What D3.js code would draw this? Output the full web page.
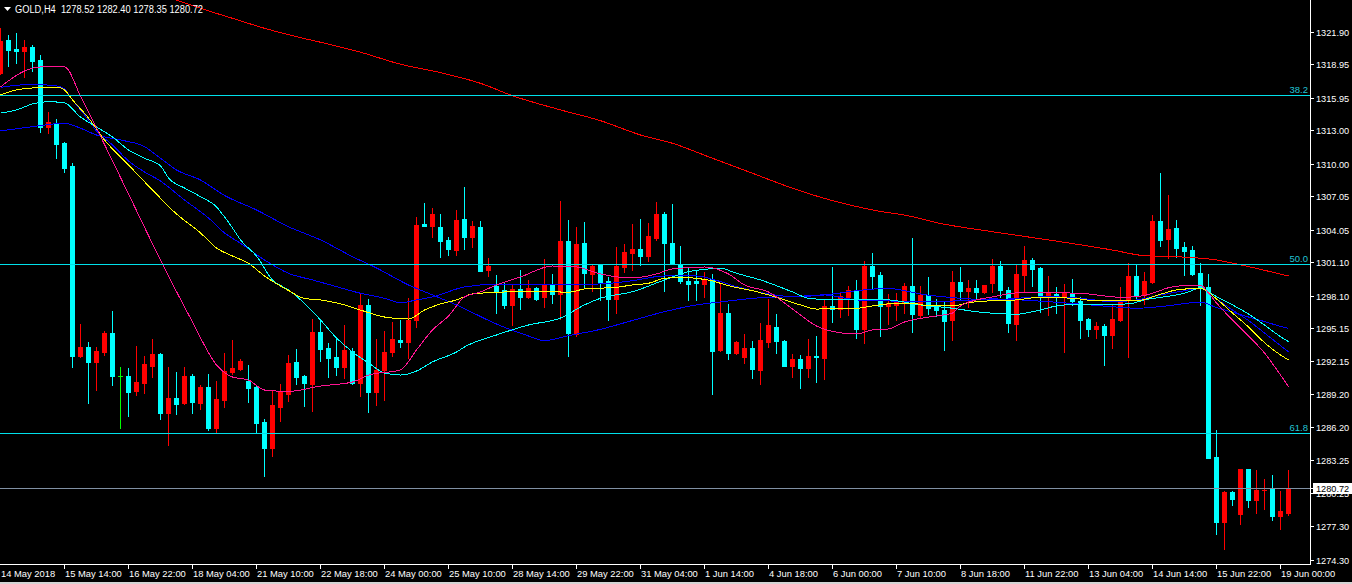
<!DOCTYPE html>
<html><head><meta charset="utf-8">
<script src="https://cdn.jsdelivr.net/npm/d3@7"></script>
<style>html,body{margin:0;padding:0;background:#000;overflow:hidden}svg{display:block}</style>
</head><body><svg id="c" width="1352" height="584"></svg>
<script>
const symbolTitle = "GOLD,H4";
const lastOHLC = [1278.52, 1282.40, 1278.35, 1280.72];
const opens = [1318.19,1321.14,1320.32,1320.14,1320.51,1319.33,1313.27,1313.63,1311.88,1309.78,
1292.67,1293.46,1292.13,1293.03,1294.72,1290.82,1290.82,1289.49,1290.21,1291.77,
1292.83,1287.51,1288.86,1288.41,1290.84,1288.41,1289.85,1286.18,1288.71,1291.20,
1291.48,1290.39,1289.85,1286.70,1284.38,1288.05,1289.25,1292.11,1290.84,1290.15,
1294.81,1293.37,1292.56,1291.68,1293.10,1290.24,1297.25,1289.43,1291.41,1293.03,
1294.09,1293.94,1295.92,1304.57,1304.39,1304.28,1303.11,1302.23,1305.00,1303.38,
1304.28,1300.43,1298.98,1298.62,1297.25,1298.69,1297.99,1298.80,1297.99,1299.14,
1298.26,1303.04,1294.66,1302.86,1300.07,1300.88,1299.44,1297.81,1300.70,1301.96,
1302.32,1301.69,1303.31,1305.45,1302.86,1300.97,1299.41,1299.41,1299.17,1299.59,
1293.19,1296.50,1292.94,1292.58,1293.40,1291.41,1293.94,1295.26,1294.03,1291.77,
1292.38,1291.59,1292.67,1292.49,1297.18,1296.86,1297.97,1298.62,1295.11,1300.79,
1299.98,1297.18,1297.27,1297.52,1298.98,1296.32,1298.17,1297.04,1296.79,1295.92,
1299.35,1298.53,1298.78,1298.42,1299.26,1300.76,1298.62,1295.56,1299.98,1301.33,
1300.61,1298.08,1298.26,1298.08,1298.35,1297.61,1296.01,1295.11,1295.38,1294.57,
1295.92,1297.72,1299.89,1298.15,1299.32,1304.84,1303.20,1304.19,1302.47,1302.20,
1300.13,1298.90,1283.54,1277.71,1280.39,1278.43,1282.46,1279.69,1280.54,1280.66,
1278.25,1278.52];
const highs = [1322.19,1321.59,1321.74,1321.14,1320.69,1319.78,1314.64,1314.01,1311.97,1310.05,
1295.53,1293.91,1293.46,1294.90,1296.70,1291.66,1291.54,1293.55,1292.65,1294.18,
1292.92,1291.66,1291.20,1291.66,1291.02,1290.03,1291.02,1290.39,1292.92,1294.09,
1292.38,1291.84,1289.94,1286.97,1289.58,1290.12,1292.74,1293.28,1290.93,1295.98,
1295.98,1293.82,1294.36,1295.44,1293.37,1298.33,1297.79,1294.18,1294.90,1295.71,
1295.89,1297.88,1305.18,1306.44,1305.99,1305.45,1303.38,1305.81,1307.88,1304.82,
1304.82,1301.51,1299.95,1299.32,1299.17,1300.43,1299.53,1298.87,1301.42,1300.04,
1306.62,1304.91,1304.28,1304.73,1300.85,1300.94,1299.80,1302.47,1302.74,1304.55,
1305.00,1304.64,1306.53,1305.63,1306.35,1302.54,1300.61,1300.40,1300.22,1300.04,
1299.17,1297.34,1294.03,1294.60,1294.03,1295.65,1297.81,1296.43,1294.12,1292.85,
1292.74,1294.21,1294.48,1297.72,1300.67,1298.33,1298.96,1299.50,1301.21,1301.93,
1300.25,1298.26,1298.33,1299.26,1303.29,1298.98,1299.80,1297.81,1297.63,1300.34,
1300.70,1299.53,1299.50,1299.09,1301.39,1301.21,1298.90,1300.85,1302.56,1301.51,
1300.70,1299.86,1298.87,1299.14,1299.59,1297.99,1296.07,1295.74,1295.56,1297.34,
1298.90,1301.03,1300.88,1300.22,1305.39,1309.15,1307.19,1304.91,1302.92,1302.56,
1301.03,1300.04,1285.98,1280.45,1280.50,1282.50,1282.50,1282.37,1281.56,1281.92,
1280.48,1282.40];
const lows = [1318.07,1318.79,1319.04,1317.77,1318.34,1312.81,1312.72,1310.50,1309.26,1291.68,
1292.60,1288.44,1289.61,1292.74,1290.03,1286.18,1287.27,1289.13,1289.31,1290.75,
1286.99,1284.65,1287.45,1288.35,1287.54,1287.87,1286.00,1285.82,1288.05,1291.05,
1291.39,1288.53,1285.82,1281.86,1283.66,1286.81,1288.62,1290.15,1288.17,1287.72,
1292.22,1290.78,1290.96,1290.69,1290.15,1289.07,1287.63,1288.26,1288.71,1292.67,
1293.49,1292.49,1295.29,1304.37,1303.40,1301.60,1301.78,1301.78,1302.32,1302.50,
1300.31,1299.89,1296.55,1297.00,1295.47,1296.91,1297.90,1297.72,1297.09,1297.42,
1296.01,1292.67,1294.48,1298.90,1298.53,1297.72,1295.87,1296.55,1300.25,1300.43,
1300.88,1301.24,1303.13,1298.53,1300.99,1299.26,1297.70,1297.70,1298.00,1289.25,
1293.13,1292.35,1292.87,1292.04,1290.69,1290.15,1293.49,1292.94,1291.74,1290.78,
1289.79,1290.78,1290.33,1290.60,1295.74,1296.19,1296.37,1294.30,1293.85,1298.80,
1294.48,1295.56,1295.92,1296.55,1294.84,1296.10,1296.46,1296.28,1293.22,1294.12,
1297.72,1297.09,1297.85,1298.35,1298.42,1297.99,1294.84,1294.12,1298.42,1298.98,
1296.64,1296.37,1296.55,1293.03,1297.27,1294.30,1294.48,1294.30,1291.86,1293.40,
1295.83,1292.58,1297.70,1297.36,1299.20,1302.59,1301.48,1301.60,1299.95,1299.95,
1297.27,1283.45,1276.63,1275.27,1279.21,1277.53,1279.06,1278.52,1278.88,1277.89,
1277.08,1278.35];
const closes = [1321.05,1320.23,1320.17,1320.51,1319.24,1313.27,1313.74,1311.79,1309.62,1292.67,
1293.46,1292.13,1293.10,1294.72,1290.87,1290.82,1289.43,1290.28,1291.93,1292.83,
1287.51,1288.86,1288.32,1290.84,1288.50,1289.85,1286.13,1288.77,1291.29,1291.57,
1292.20,1289.79,1286.63,1284.38,1288.23,1289.40,1292.02,1290.78,1290.24,1294.81,
1293.31,1292.49,1291.68,1293.19,1290.24,1297.25,1289.43,1291.39,1293.01,1294.18,
1293.94,1295.89,1304.46,1304.39,1305.48,1303.04,1302.32,1304.91,1303.38,1304.37,
1300.34,1300.79,1298.53,1297.25,1298.69,1297.99,1298.80,1297.81,1299.17,1298.21,
1303.04,1294.72,1302.77,1300.16,1300.79,1299.35,1297.81,1300.79,1302.05,1302.32,
1301.69,1303.49,1305.45,1302.86,1301.06,1299.44,1299.17,1299.23,1299.59,1293.13,
1296.50,1292.94,1293.94,1293.40,1291.50,1294.09,1295.47,1294.03,1291.77,1292.38,
1291.59,1292.67,1292.53,1297.18,1296.86,1298.08,1298.62,1295.11,1300.79,1299.89,
1297.18,1297.45,1297.58,1298.98,1296.46,1298.17,1297.00,1296.82,1295.83,1299.35,
1298.53,1298.78,1298.44,1299.05,1300.76,1298.62,1295.62,1300.04,1301.30,1300.52,
1297.94,1298.35,1298.06,1298.35,1297.63,1295.92,1295.11,1295.38,1294.57,1295.98,
1297.70,1299.89,1298.15,1299.41,1304.84,1303.11,1304.10,1302.38,1302.11,1300.04,
1298.90,1283.48,1277.71,1280.41,1279.78,1282.46,1279.69,1280.57,1280.57,1278.25,
1278.67,1280.72];

const priceTicks = [1321.90,1318.95,1315.95,1313.00,1310.00,1307.05,1304.05,1301.10,1298.10,
1295.15,1292.15,1289.20,1286.20,1283.25,1280.25,1277.30,1274.30];
const timeTickBars = [0,8,16,24,32,40,48,56,64,72,80,88,96,104,112,120,128,136,144,152,160];
const timeLabels = ["14 May 2018","15 May 14:00","16 May 22:00","18 May 04:00","21 May 10:00",
"22 May 18:00","24 May 00:00","25 May 10:00","28 May 14:00","29 May 22:00","31 May 04:00",
"1 Jun 14:00","4 Jun 18:00","6 Jun 00:00","7 Jun 10:00","8 Jun 18:00","11 Jun 22:00",
"13 Jun 04:00","14 Jun 14:00","15 Jun 22:00","19 Jun 00:00"];
const fibLevels = ["38.2","50.0","61.8"];
const fibPrices = [1316.15,1300.91,1285.67];

// moving averages: [bar index, price]
const maRed = [[22,1324.74],[25,1323.99],[29,1323.09],[33,1322.19],[37,1321.43],[40,1320.93],
[45,1320.03],[50,1318.95],[55,1318.19],[60,1317.23],[64,1316.11],[70,1314.83],[75,1313.86],
[80,1312.57],[84,1311.82],[89,1310.47],[94,1309.12],[99,1307.77],[104,1306.65],[109,1305.81],
[114,1305.21],[117,1304.67],[124,1303.85],[131,1303.11],[139,1302.20],[143,1301.69],
[147,1301.60],[152,1301.30],[156,1300.70],[161,1299.86]];
const maPink = [[0,1316.90],[3,1318.34],[5,1318.70],[8,1318.70],[10,1316.09],[12,1313.20],
[16,1307.25],[20,1301.30],[24,1295.71],[27,1291.84],[29,1290.75],[31,1290.48],[33,1289.58],
[36,1289.45],[40,1289.94],[44,1290.30],[46,1290.93],[50,1291.39],[52,1293.19],[54,1294.99],
[56,1296.25],[58,1297.97],[60,1298.42],[62,1299.05],[65,1299.77],[69,1300.76],[72,1300.67],
[75,1300.04],[79,1299.68],[82,1300.04],[84,1300.49],[88,1300.67],[91,1300.04],[93,1299.05],
[96,1298.42],[98,1297.43],[100,1296.34],[102,1295.35],[104,1294.86],[107,1294.63],[109,1294.99],
[111,1295.08],[113,1295.71],[116,1296.16],[119,1296.52],[120,1297.16],[122,1297.70],[124,1297.97],
[127,1298.33],[131,1298.35],[135,1298.30],[137,1298.15],[140,1297.94],[142,1297.99],[144,1298.30],
[146,1298.80],[148,1299.00],[150,1299.02],[151,1298.33],[152,1297.43],[154,1295.89],[156,1294.45],
[158,1292.92],[160,1290.93],[161,1289.88]];
const maYellow = [[0,1316.18],[2,1316.63],[4,1316.81],[7,1316.87],[8,1316.63],[9,1315.73],
[11,1314.10],[13,1312.12],[16,1309.87],[19,1307.61],[22,1305.45],[25,1303.74],[27,1302.38],
[29,1301.66],[31,1301.00],[33,1299.86],[36,1298.55],[38,1297.83],[40,1297.70],[43,1297.25],
[45,1296.79],[48,1296.16],[51,1295.98],[53,1296.79],[55,1297.34],[57,1297.70],[59,1298.24],
[61,1298.35],[65,1298.44],[69,1298.44],[71,1298.39],[73,1298.69],[77,1298.84],[79,1299.05],
[81,1299.20],[83,1299.65],[85,1299.74],[87,1299.65],[89,1299.41],[91,1298.98],[94,1298.53],
[97,1297.94],[100,1297.25],[102,1296.88],[105,1296.95],[107,1296.95],[109,1297.16],[111,1297.34],
[114,1297.40],[116,1297.18],[119,1297.16],[121,1297.45],[124,1297.63],[127,1297.70],[130,1297.94],
[134,1297.85],[137,1297.63],[142,1297.63],[145,1298.21],[147,1298.60],[150,1298.75],[152,1297.79],
[154,1296.52],[156,1295.26],[158,1293.85],[160,1292.74],[161,1292.29]];
const maAqua = [[0,1314.55],[2,1314.83],[4,1315.37],[6,1315.57],[8,1315.46],[10,1314.19],
[12,1313.29],[14,1312.39],[16,1311.22],[18,1310.47],[20,1309.78],[21,1308.69],[23,1307.79],
[25,1307.01],[27,1306.08],[28,1305.18],[29,1304.19],[30,1303.11],[32,1301.66],[34,1299.50],
[36,1298.60],[38,1297.40],[40,1295.89],[42,1294.27],[44,1293.01],[46,1292.02],[48,1291.11],
[50,1290.93],[52,1291.29],[54,1292.11],[57,1293.01],[58,1293.46],[62,1294.54],[66,1295.44],
[70,1296.07],[73,1297.25],[75,1297.85],[79,1298.44],[83,1299.50],[86,1300.25],[88,1300.46],
[90,1300.55],[92,1300.10],[95,1299.50],[99,1298.42],[101,1297.85],[103,1297.76],[107,1297.76],
[111,1297.70],[115,1297.25],[119,1296.95],[122,1296.64],[124,1296.50],[127,1296.41],[129,1296.64],
[133,1297.25],[138,1297.31],[141,1297.34],[143,1297.70],[148,1298.30],[150,1298.75],[152,1298.00],
[154,1297.25],[156,1296.43],[158,1295.44],[160,1294.39],[161,1293.94]];
const maBlueFast = [[0,1316.87],[4,1317.14],[7,1316.99],[8,1316.72],[9,1315.73],[11,1313.92],
[12,1312.93],[14,1311.67],[16,1310.23],[18,1309.24],[20,1308.42],[23,1306.71],[26,1305.09],
[28,1303.74],[30,1302.81],[33,1301.30],[36,1300.10],[39,1299.50],[42,1298.90],[45,1298.30],
[48,1297.85],[50,1297.45],[52,1297.70],[54,1297.97],[58,1298.87],[62,1299.11],[66,1299.05],
[75,1299.14],[79,1299.44],[83,1299.86],[87,1299.86],[89,1299.56],[92,1298.90],[96,1298.24],
[99,1297.99],[103,1298.15],[107,1298.53],[111,1298.75],[113,1298.53],[115,1298.24],[120,1297.85],
[124,1297.70],[127,1297.85],[131,1297.99],[135,1297.85],[139,1297.54],[142,1297.70],[145,1298.15],
[148,1298.53],[150,1298.75],[152,1297.80],[154,1296.79],[156,1295.84],[158,1294.72],[160,1293.58],
[161,1293.03]];
const maBlueSlow = [[0,1312.93],[4,1313.32],[8,1313.63],[10,1313.18],[12,1312.57],[15,1312.12],
[18,1311.52],[20,1310.47],[22,1309.42],[25,1308.51],[28,1307.12],[32,1305.81],[36,1304.30],
[40,1303.11],[44,1301.60],[47,1300.58],[51,1299.05],[54,1298.15],[57,1297.25],[62,1295.53],
[66,1294.45],[68,1294.03],[71,1294.48],[75,1295.05],[79,1295.85],[83,1296.64],[87,1297.25],
[90,1297.52],[95,1297.90],[99,1297.99],[103,1298.15],[107,1297.70],[111,1297.61],[115,1297.54],
[120,1297.63],[124,1297.79],[131,1297.54],[139,1297.09],[142,1296.95],[146,1297.18],[149,1297.45],
[150,1297.49],[152,1297.01],[154,1296.59],[156,1296.16],[158,1295.75],[160,1295.32],[161,1295.14]];

const W = 1352, H = 584, plotR = 1310, plotB = 564;
const svg = d3.select("#c");
svg.append("rect").attr("width", W).attr("height", H).attr("fill", "#000");
const x = d3.scaleLinear().domain([0, 161]).range([0, 1288]);
const y = d3.scaleLinear().domain([1274.30, 1321.90]).range([559.5, 31.5]);
const FONT = "'Liberation Sans', Arial, sans-serif";

svg.append("clipPath").attr("id", "plot").append("rect")
  .attr("x", 0).attr("y", 0).attr("width", plotR).attr("height", plotB);
const g = svg.append("g").attr("clip-path", "url(#plot)").attr("shape-rendering", "crispEdges");

// candles
const bars = d3.range(opens.length).map(i => ({i, o: opens[i], h: highs[i], l: lows[i], c: closes[i]}));
const colorOf = d => d.c > d.o ? "#ff0000" : (d.c < d.o ? "#00ffff" : "#00ff00");
const cg = g.append("g");
cg.selectAll("rect.wick").data(bars).join("rect").attr("class", "wick")
  .attr("x", d => Math.round(x(d.i)))
  .attr("y", d => Math.round(y(d.h)))
  .attr("width", 1)
  .attr("height", d => Math.round(y(d.l)) - Math.round(y(d.h)) + 1)
  .attr("fill", colorOf);
cg.selectAll("rect.body").data(bars).join("rect").attr("class", "body")
  .attr("x", d => Math.round(x(d.i)) - 2)
  .attr("y", d => Math.round(y(Math.max(d.o, d.c))))
  .attr("width", 5)
  .attr("height", d => Math.max(1, Math.round(y(Math.min(d.o, d.c))) - Math.round(y(Math.max(d.o, d.c))) + 1))
  .attr("fill", colorOf);

// moving averages
const line = d3.line().x(d => x(d[0]) + 0.5).y(d => y(d[1])).curve(d3.curveMonotoneX);
const mas = [
  [maBlueSlow, "#0000ff"], [maBlueFast, "#0000ff"], [maAqua, "#00ffff"],
  [maYellow, "#ffff00"], [maPink, "#ff1493"], [maRed, "#ff0000"]
];
mas.forEach(([data, col]) => {
  g.append("path").attr("d", line(data)).attr("fill", "none")
    .attr("stroke", col).attr("stroke-width", 1);
});

// fibonacci levels
fibPrices.forEach((p, k) => {
  const yy = Math.round(y(p));
  g.append("rect").attr("x", 0).attr("y", yy).attr("width", plotR).attr("height", 1).attr("fill", "#00e0ea");
  svg.append("text").attr("x", 1308).attr("y", yy - 2).attr("text-anchor", "end")
    .attr("font-family", FONT).attr("font-size", "9.5px").attr("fill", "#22c4d4").text(fibLevels[k]);
});

// current price line
const lastY = Math.round(y(lastOHLC[3]));
g.append("rect").attr("x", 0).attr("y", lastY).attr("width", plotR).attr("height", 1).attr("fill", "#8090a4");

// axes
const ag = svg.append("g").attr("shape-rendering", "crispEdges");
ag.append("rect").attr("x", plotR).attr("y", 0).attr("width", 1).attr("height", plotB + 1).attr("fill", "#ffffff");
ag.append("rect").attr("x", 0).attr("y", plotB).attr("width", plotR + 1).attr("height", 1).attr("fill", "#ffffff");
priceTicks.forEach(p => {
  const ty = Math.round(y(p));
  ag.append("rect").attr("x", plotR + 1).attr("y", ty).attr("width", 3).attr("height", 1).attr("fill", "#fff");
  svg.append("text").attr("x", 1316).attr("y", ty + 3.5).attr("font-family", FONT)
    .attr("font-size", "9.2px").attr("fill", "#fff").text(p.toFixed(2));
});
timeTickBars.forEach((b, k) => {
  const tx = Math.round(x(b));
  if (b > 0) ag.append("rect").attr("x", tx).attr("y", plotB + 1).attr("width", 1).attr("height", 4).attr("fill", "#fff");
  svg.append("text").attr("x", tx + (b > 0 ? 1 : 1)).attr("y", 577).attr("font-family", FONT)
    .attr("font-size", "9.4px").attr("fill", "#fff").text(timeLabels[k]);
});

// last price box
ag.append("rect").attr("x", plotR + 1).attr("y", lastY).attr("width", 3).attr("height", 1).attr("fill", "#fff");
ag.append("rect").attr("x", 1313).attr("y", lastY - 5).attr("width", 39).attr("height", 11).attr("fill", "#ffffff");
svg.append("text").attr("x", 1316).attr("y", lastY + 3.5).attr("font-family", FONT)
  .attr("font-size", "9.2px").attr("fill", "#000").text(lastOHLC[3].toFixed(2));

// bottom frame strip
ag.append("rect").attr("x", 0).attr("y", 582).attr("width", W).attr("height", 2).attr("fill", "#d4d4d4");

// header
svg.append("path").attr("d", "M4,7 L11,7 L7.5,11 Z").attr("fill", "#fff");
svg.append("text").attr("x", 15).attr("y", 12.5).attr("font-family", FONT)
  .attr("font-size", "10px").attr("fill", "#fff").style("white-space", "pre")
  .attr("textLength", 188).attr("lengthAdjust", "spacingAndGlyphs")
  .text(symbolTitle + "  " + lastOHLC.map(v => v.toFixed(2)).join(" "));
</script>
</body></html>
